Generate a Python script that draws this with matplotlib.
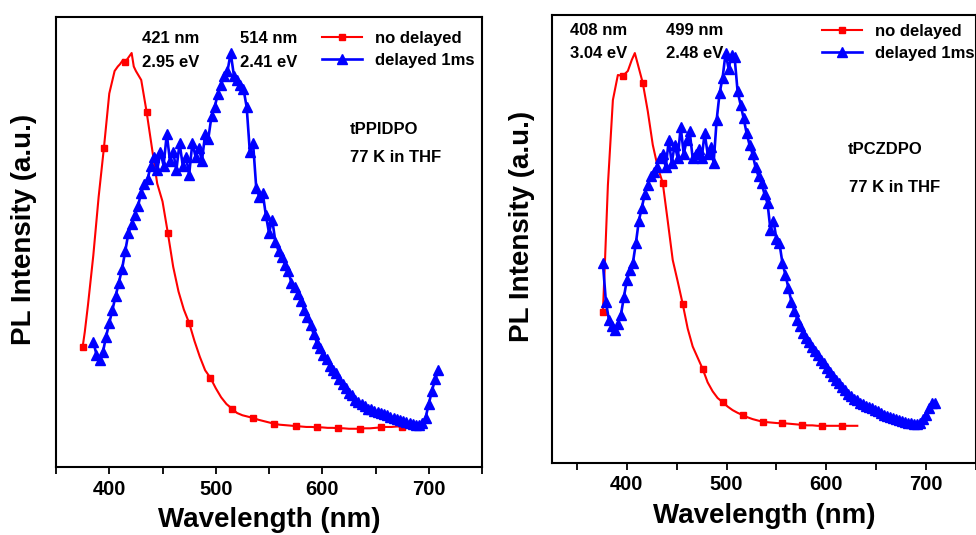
import numpy as np
import matplotlib
matplotlib.use("Agg")
import matplotlib.pyplot as plt

plt.rcParams["font.family"] = ["Liberation Sans", "DejaVu Sans"]
plt.rcParams["font.weight"] = "bold"

# ---------------- tPPIDPO (left) ----------------
wl_red_l = [375, 377, 380, 385, 390, 395, 400, 403, 405, 408, 410, 413, 415, 418, 421,
            423, 425, 430, 435, 440, 445, 450, 455, 460, 465, 470, 475, 480, 485, 490,
            495, 500, 505, 510, 515, 520, 525, 530, 535, 540, 545, 550, 555, 560, 565,
            570, 575, 580, 585, 590, 595, 600, 605, 610, 615, 620, 625, 630, 635, 640,
            645, 650, 655, 660, 665, 670, 675, 680]
pl_red_l = [26.7, 30, 36, 47, 60, 71, 83, 86, 88, 89, 89.5, 90.5, 90, 91, 92,
            89, 88, 86, 79, 71, 63, 59, 52, 44.5, 39, 35, 32, 28, 24.5, 21.5,
            19.8, 17.5, 15.5, 14, 13, 12, 11.5, 11.2, 10.9, 10.5, 10.2, 9.9, 9.6, 9.4, 9.3,
            9.2, 9.1, 9.0, 8.9, 8.9, 8.8, 8.8, 8.7, 8.7, 8.6, 8.6, 8.5, 8.5, 8.5, 8.6,
            8.6, 8.7, 8.8, 8.9, 8.9, 9.0, 9.0, 9.1]

wl_blue_l = list(range(385, 710, 3))
pl_blue_l = [27.8, 25, 23.8, 25.5, 29, 32, 35, 38, 41, 44, 48, 52, 54, 56, 58,
             61, 63, 64, 67, 69, 66, 70, 67, 74, 68, 70, 66, 72, 67, 69,
             65, 72, 69, 71, 68, 74, 73, 78, 80, 83, 85, 87, 88, 92, 87,
             86, 85, 84, 80, 70, 72, 62, 60, 61, 56, 52, 55, 50, 48, 46.7,
             45, 43.5, 41, 40, 38.5, 37, 35, 33.3, 31.5, 29.5, 27.6, 26.5, 25, 24, 22.5,
             21.5, 21, 19.5, 18.5, 17.5, 16.5, 16, 15, 14.5, 14, 13.5, 13, 12.8, 12.5, 12.2,
             12, 11.8, 11.5, 11.2, 11, 10.7, 10.4, 10.2, 10, 9.7, 9.5, 9.3, 9.3, 9.8, 11,
             14, 17, 19.5, 21.5]

# ---------------- tPCZDPO (right) ----------------
wl_red_r = [376, 378, 381, 386, 391, 396, 401, 405, 408, 411, 416, 421, 426, 431, 436,
            441, 446, 451, 456, 461, 466, 471, 476, 481, 486, 491, 496, 501, 506, 511,
            516, 521, 526, 531, 536, 541, 546, 551, 556, 561, 566, 571, 576, 581, 586,
            591, 596, 601, 606, 611, 616, 621, 626, 631]
pl_red_r = [33.7, 44.6, 62, 81, 86.6, 86.4, 87.5, 90, 91.5, 89, 84.8, 78.5, 71, 66, 62.5,
            54, 45.3, 40.5, 35.5, 30, 26, 23.5, 21, 18, 16, 14.5, 13.6, 12.6, 11.8, 11.2,
            10.7, 10.2, 9.8, 9.5, 9.2, 9.1, 9.0, 8.9, 8.9, 8.8, 8.7, 8.6, 8.5, 8.4, 8.4,
            8.3, 8.3, 8.3, 8.3, 8.3, 8.3, 8.3, 8.3, 8.3]

wl_blue_r = list(range(376, 710, 3))
pl_blue_r = [44.6, 36, 32, 30.5, 29.7, 31, 33, 37, 40.8, 43, 44.6, 49, 54, 57, 60,
             62, 64, 65, 66, 68, 69, 66, 72, 67, 71, 68, 75, 69, 72, 74,
             68, 69, 70, 68, 73.7, 69, 70.5, 67, 76.5, 82.6, 86, 91.5, 88, 91, 90.6,
             83, 80, 77, 73.7, 71, 69, 66, 64, 62.5, 60, 58, 52, 54, 50, 49,
             44.6, 42, 39, 36, 34, 32, 30.5, 29, 28, 27, 26, 25, 24, 23, 22.3,
             21.3, 20.4, 19.5, 18.6, 17.9, 17, 16.2, 15.5, 14.9, 14.3, 14, 13.5, 13.1, 12.8, 12.5,
             12.3, 11.9, 11.5, 11.1, 10.8, 10.5, 10.2, 10, 9.8, 9.6, 9.4, 9.2, 9.0, 8.9, 8.7,
             8.7, 9.0, 9.8, 10.8, 12.3, 13.5, 13.4]

panels = [
    dict(rect=[0.0574, 0.1271, 0.4365, 0.8411], xlim=(350, 750),
         wr=wl_red_l, pr=pl_red_l, wb=wl_blue_l, pb=pl_blue_l, mstart=375,
         peaks=[(0.202, "421 nm", "2.95 eV"), (0.432, "514 nm", "2.41 eV")],
         pk_y=(0.953, 0.90), name="tPPIDPO", name_xy=(0.77, 0.749), cond_xy=(0.796, 0.687),
         leg=(0.624, 0.969), ylab_x=-0.045),
    dict(rect=[0.5656, 0.1346, 0.4344, 0.8374], xlim=(325, 750),
         wr=wl_red_r, pr=pl_red_r, wb=wl_blue_r, pb=pl_blue_r, mstart=376,
         peaks=[(0.042, "408 nm", "3.04 eV"), (0.269, "499 nm", "2.48 eV")],
         pk_y=(0.966, 0.915), name="tPCZDPO", name_xy=(0.785, 0.699), cond_xy=(0.807, 0.614),
         leg=(0.637, 0.98), ylab_x=-0.040),
]

fig = plt.figure(figsize=(9.76, 5.35), dpi=100)

for p in panels:
    ax = fig.add_axes(p["rect"])
    marks = [i for i, w in enumerate(p["wr"]) if (w - p["mstart"]) % 20 == 0]
    ax.plot(p["wr"], p["pr"], color="#ff0000", lw=1.5, marker="s", ms=5,
            markevery=marks, label="no delayed", zorder=2)
    ax.plot(p["wb"], p["pb"], color="#0000ff", lw=1.9, marker="^", ms=7,
            label="delayed 1ms", zorder=3)
    ax.set_xlim(*p["xlim"])
    ax.set_ylim(0, 100)
    ax.set_yticks([])
    ax.set_xticks([400, 500, 600, 700])
    ax.set_xticks(np.arange(350, 751, 50), minor=True)
    ax.tick_params(axis="x", which="both", direction="out", length=5, width=1.3,
                   labelsize=14.5, pad=4)
    for s in ax.spines.values():
        s.set_linewidth(1.5)
    ax.set_xlabel("Wavelength (nm)", fontsize=20, fontweight="bold", labelpad=6)
    ax.set_ylabel("PL Intensity (a.u.)", fontsize=20, fontweight="bold")
    ax.yaxis.set_label_coords(p["ylab_x"], 0.527)

    for x, t1, t2 in p["peaks"]:
        ax.text(x, p["pk_y"][0], t1, transform=ax.transAxes, fontsize=12,
                fontweight="bold", ha="left", va="center")
        ax.text(x, p["pk_y"][1], t2, transform=ax.transAxes, fontsize=12,
                fontweight="bold", ha="left", va="center")
    ax.text(*p["name_xy"], p["name"], transform=ax.transAxes, fontsize=12,
            fontweight="bold", ha="center", va="center")
    ax.text(*p["cond_xy"], "77 K in THF", transform=ax.transAxes, fontsize=12,
            fontweight="bold", ha="center", va="center")

    ax.legend(loc="upper left", bbox_to_anchor=p["leg"], frameon=False,
              handlelength=2.4, handletextpad=0.8, labelspacing=0.43,
              borderpad=0, borderaxespad=0, prop={"weight": "bold", "size": 12})

fig.savefig("out.png", dpi=100)
